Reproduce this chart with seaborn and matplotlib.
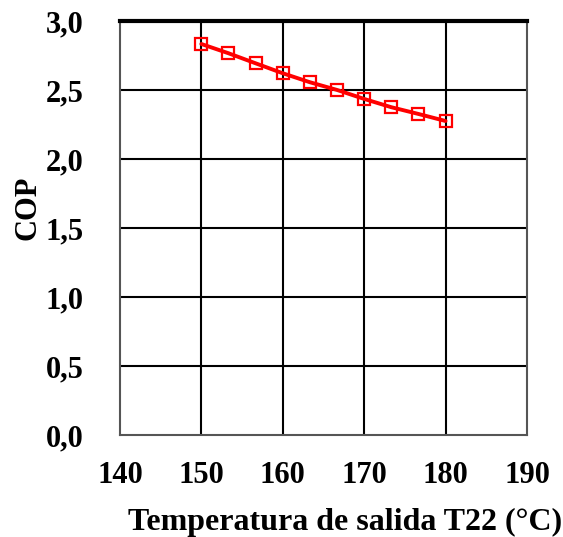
import matplotlib
matplotlib.use("Agg")
import matplotlib.pyplot as plt
import seaborn as sns
import pandas as pd

temperature = [150.0, 153.33, 156.67, 160.0, 163.33, 166.67, 170.0, 173.33, 176.67, 180.0]
cop = [2.833, 2.766, 2.693, 2.621, 2.556, 2.500, 2.435, 2.375, 2.326, 2.275]
x_ticks = [140, 150, 160, 170, 180, 190]
y_ticks = [0.0, 0.5, 1.0, 1.5, 2.0, 2.5, 3.0]
y_tick_labels = ["0,0", "0,5", "1,0", "1,5", "2,0", "2,5", "3,0"]

sns.set_style("white")
plt.rcParams['font.family'] = ['Liberation Serif', 'DejaVu Serif']
plt.rcParams['font.weight'] = 'bold'
plt.rcParams['text.color'] = 'black'
plt.rcParams['xtick.color'] = 'black'
plt.rcParams['ytick.color'] = 'black'
plt.rcParams['axes.labelcolor'] = 'black'

df = pd.DataFrame({"T": temperature, "COP": cop})

fig = plt.figure(figsize=(5.63, 5.37), dpi=100)
ax = fig.add_axes([0.213, 0.19, 0.723, 0.771])

for xv in x_ticks[1:-1]:
    ax.axvline(xv, color="black", lw=1.5, zorder=1)
for yv in y_ticks[1:-1]:
    ax.axhline(yv, color="black", lw=1.5, zorder=1)

sns.lineplot(data=df, x="T", y="COP", ax=ax, color="#ff0000", lw=2.8,
             marker="s", markersize=9, markerfacecolor="none",
             markeredgecolor="#ff0000", markeredgewidth=1.6, zorder=3)

ax.set_xlim(140, 190)
ax.set_ylim(0, 3.0)
ax.set_xticks(x_ticks)
ax.set_xticklabels([str(v) for v in x_ticks], fontsize=22, fontweight="bold")
ax.set_yticks(y_ticks)
ax.set_yticklabels(y_tick_labels, fontsize=22, fontweight="bold")
ax.tick_params(axis="x", length=0, pad=19)
ax.tick_params(axis="y", length=0, pad=26)
ax.set_xlabel("Temperatura de salida T22 (°C)", fontsize=23, fontweight="bold")
ax.set_ylabel("COP", fontsize=22, fontweight="bold")
ax.xaxis.set_label_coords(0.553, -0.175)
ax.yaxis.set_label_coords(-0.19, 0.548)

for side in ["left", "bottom", "right"]:
    ax.spines[side].set_color("#555555")
    ax.spines[side].set_linewidth(1.5)
ax.spines["top"].set_color("black")
ax.spines["top"].set_linewidth(3)

fig.savefig("out.png", dpi=100)
